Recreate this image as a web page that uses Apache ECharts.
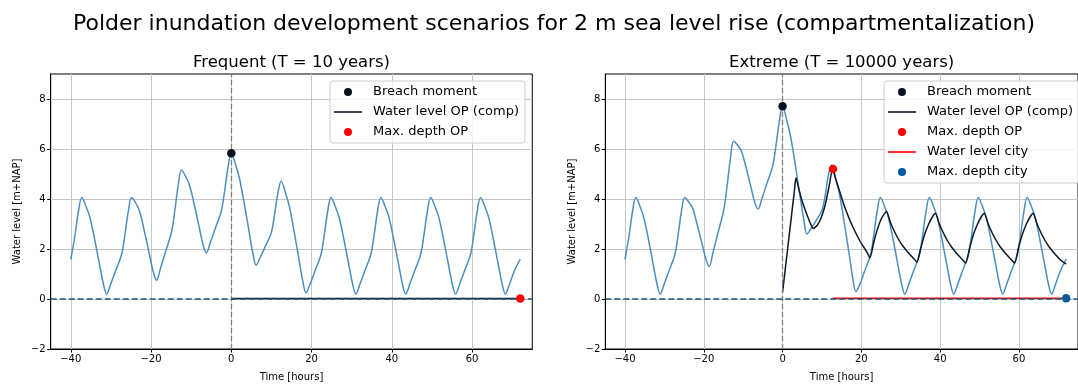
<!DOCTYPE html>
<html><head><meta charset="utf-8">
<script src="https://cdn.jsdelivr.net/npm/echarts@6/dist/echarts.min.js"></script>
<style>html,body{margin:0;padding:0;background:#fff}#c{width:1078px;height:387px}</style>
</head><body><div id="c"></div>
<script>
// ---------------- data ----------------
const suptitle = 'Polder inundation development scenarios for 2 m sea level rise (compartmentalization)';
const panelTitles = ['Frequent (T = 10 years)', 'Extreme (T = 10000 years)'];
const xTicks = [-40, -20, 0, 20, 40, 60];
const yTicks = [-2, 0, 2, 4, 6, 8];

const seaTime = [
  -40, -38.92, -38.09, -37.26, -36.02, -35.19, -33.96, -32.69, -31.86, -31.06, -30.06, -28.84, -27.34,
  -26.5, -25.67, -24.84, -23.6, -22.77, -21.54, -20.27, -19.44, -18.64, -17.64, -16.42, -14.92,
  -14.08, -13.25, -12.42, -11.18, -10.35, -9.12, -7.85, -7.02, -6.22, -5.22, -4.0, -2.5,
  -1.66, -0.83, 0, 1.24, 2.07, 3.3, 4.57, 5.4, 6.2, 7.2, 8.42, 9.92,
  10.76, 11.59, 12.42, 13.66, 14.49, 15.72, 16.99, 17.82, 18.62, 19.62, 20.84, 22.34,
  23.18, 24.01, 24.84, 26.08, 26.91, 28.14, 29.41, 30.24, 31.04, 32.04, 33.26, 34.76,
  35.6, 36.43, 37.26, 38.5, 39.33, 40.56, 41.83, 42.66, 43.46, 44.46, 45.68, 47.18,
  48.02, 48.85, 49.68, 50.92, 51.75, 52.98, 54.25, 55.08, 55.88, 56.88, 58.1, 59.6,
  60.44, 61.27, 62.1, 63.34, 64.17, 65.4, 66.67, 67.5, 68.3, 69.3, 70.52, 72
];
const seaFrequent = [
  1.58, 2.58, 3.50, 4.06, 3.63, 3.24, 2.31, 1.26, 0.59, 0.20, 0.59, 1.12, 1.78,
  2.58, 3.50, 4.06, 3.78, 3.46, 2.63, 1.68, 1.08, 0.75, 1.23, 1.87, 2.66,
  3.53, 4.53, 5.16, 4.84, 4.52, 3.70, 2.76, 2.17, 1.85, 2.26, 2.82, 3.51,
  4.32, 5.26, 5.83, 5.28, 4.80, 3.75, 2.56, 1.81, 1.35, 1.66, 2.09, 2.63,
  3.36, 4.21, 4.71, 4.16, 3.69, 2.64, 1.46, 0.71, 0.25, 0.59, 1.12, 1.78,
  2.58, 3.50, 4.06, 3.63, 3.24, 2.31, 1.26, 0.59, 0.20, 0.59, 1.12, 1.78,
  2.58, 3.50, 4.06, 3.63, 3.24, 2.31, 1.26, 0.59, 0.20, 0.59, 1.12, 1.78,
  2.58, 3.50, 4.06, 3.63, 3.24, 2.31, 1.26, 0.59, 0.20, 0.59, 1.12, 1.78,
  2.58, 3.50, 4.06, 3.63, 3.24, 2.31, 1.26, 0.59, 0.20, 0.59, 1.12, 1.60
];
const seaExtreme = [
  1.58, 2.58, 3.50, 4.06, 3.63, 3.24, 2.31, 1.26, 0.59, 0.20, 0.59, 1.12, 1.78,
  2.58, 3.50, 4.06, 3.83, 3.61, 2.89, 2.10, 1.59, 1.30, 1.88, 2.63, 3.57,
  4.53, 5.60, 6.31, 6.11, 5.87, 5.17, 4.36, 3.84, 3.60, 4.03, 4.61, 5.33,
  6.15, 7.10, 7.71, 7.03, 6.47, 5.30, 3.99, 3.16, 2.60, 2.81, 3.11, 3.52,
  4.08, 4.92, 5.36, 4.71, 4.16, 3.00, 1.71, 0.84, 0.30, 0.59, 1.12, 1.78,
  2.58, 3.50, 4.06, 3.63, 3.24, 2.31, 1.26, 0.59, 0.20, 0.59, 1.12, 1.78,
  2.58, 3.50, 4.06, 3.63, 3.24, 2.31, 1.26, 0.59, 0.20, 0.59, 1.12, 1.78,
  2.58, 3.50, 4.06, 3.63, 3.24, 2.31, 1.26, 0.59, 0.20, 0.59, 1.12, 1.78,
  2.58, 3.50, 4.06, 3.63, 3.24, 2.31, 1.26, 0.59, 0.20, 0.59, 1.12, 1.60
];

const opFrequentTime = [0, 72];
const opFrequentLevel = [0.02, 0.02];

const opExtremeTime = [
  0, 1.0, 2.0, 3.0, 3.4, 4.2, 5.0, 6.0, 7.0, 7.8, 8.8, 9.8, 10.8, 11.8, 12.7,
  13.5, 14.5, 15.5, 16.5, 17.5, 18.5, 19.5, 20.5, 21.5, 22.2, 23.2, 24.2, 25.2, 26.4,
  27.4, 28.4, 29.4, 30.4, 31.4, 32.4, 33.4, 34.1, 35.1, 36.1, 37.1, 38.1, 38.8,
  39.8, 40.8, 41.8, 42.8, 43.8, 44.8, 45.8, 46.5, 47.5, 48.5, 49.5, 50.5, 51.2,
  52.2, 53.2, 54.2, 55.2, 56.2, 57.2, 58.2, 58.9, 59.9, 60.9, 61.9, 62.9, 63.6,
  64.6, 65.6, 66.6, 67.6, 68.6, 69.6, 70.6, 72
];
const opExtremeLevel = [
  0.27, 1.62, 2.97, 4.32, 4.85, 4.35, 3.90, 3.45, 3.05, 2.82, 2.95, 3.25, 3.75, 4.50, 5.20,
  4.80, 4.30, 3.80, 3.38, 3.00, 2.67, 2.36, 2.10, 1.85, 1.65, 2.30, 2.85, 3.25, 3.50,
  3.05, 2.70, 2.40, 2.15, 1.95, 1.77, 1.60, 1.47, 2.05, 2.60, 3.00, 3.30, 3.43,
  3.00, 2.65, 2.35, 2.10, 1.90, 1.72, 1.55, 1.43, 2.05, 2.60, 3.00, 3.30, 3.43,
  3.00, 2.65, 2.35, 2.10, 1.90, 1.72, 1.55, 1.43, 2.05, 2.60, 3.00, 3.30, 3.43,
  3.00, 2.65, 2.35, 2.10, 1.90, 1.72, 1.55, 1.40
];
const cityExtremeTime = [12.7, 72];
const cityExtremeLevel = [0.03, 0.03];

const breachFrequent = [0, 5.83];
const maxDepthOPFrequent = [72, 0.02];
const breachExtreme = [0, 7.71];
const maxDepthOPExtreme = [12.8, 5.2];
const maxDepthCityExtreme = [72, 0.03];

const baseLevel = 0;
const breachTime = 0;

// ---------------- styles ----------------
const FONT = 'DejaVu Sans';
const C_SEA = '#4b8fc2';
const C_OP = '#0b1826';
const C_BREACH = '#06121f';
const C_RED = '#ff0000';
const C_CITYDOT = '#005a9c';
const C_BASE = '#21527f';
const C_VLINE = '#808080';
const LINE_ICON = 'path://M0,0H28V1.6H0Z';

const zip = (a, b) => a.map((v, i) => [v, b[i]]);
const fmt = v => String(v).replace('-', '\u2212');

function xAxisFor(g) {
  return {
    type: 'value', gridIndex: g, min: -45, max: 75,
    name: 'Time [hours]', nameLocation: 'middle', nameGap: 23,
    nameTextStyle: {fontFamily: FONT, fontSize: 10, color: '#000'},
    axisLine: {show: true, onZero: false, lineStyle: {color: '#000', width: 1}},
    axisTick: {show: true, length: 3.5, customValues: xTicks, lineStyle: {color: '#000', width: 1}},
    axisLabel: {customValues: xTicks, margin: 5, fontFamily: FONT, fontSize: 10, color: '#000', formatter: fmt},
    splitLine: {show: true, lineStyle: {color: '#c6c6c6', width: 1}}
  };
}
function topAxisFor(g, title) {
  return {
    type: 'value', gridIndex: g, min: -45, max: 75, position: 'top',
    name: title, nameLocation: 'middle', nameGap: 3,
    nameTextStyle: {fontFamily: FONT, fontSize: 16.5, color: '#000'},
    axisLine: {show: false}, axisTick: {show: false}, axisLabel: {show: false}, splitLine: {show: false}
  };
}
function yAxisFor(g) {
  return {
    type: 'value', gridIndex: g, min: -2, max: 9,
    name: 'Water level [m+NAP]', nameLocation: 'middle', nameGap: 28, nameRotate: 90,
    nameTextStyle: {fontFamily: FONT, fontSize: 10, color: '#000'},
    axisLine: {show: true, onZero: false, lineStyle: {color: '#000', width: 1}},
    axisTick: {show: true, length: 3.5, customValues: yTicks, lineStyle: {color: '#000', width: 1}},
    axisLabel: {customValues: yTicks, margin: 5, fontFamily: FONT, fontSize: 10, color: '#000', formatter: fmt},
    splitLine: {show: true, lineStyle: {color: '#c6c6c6', width: 1}}
  };
}
function refLines() {
  return {
    silent: true, symbol: ['none', 'none'], label: {show: false}, animation: false,
    data: [
      {xAxis: breachTime, lineStyle: {color: C_VLINE, type: [5, 3], width: 1.3}},
      {yAxis: baseLevel, lineStyle: {color: C_BASE, type: [6, 3], width: 1.5}}
    ]
  };
}
function lineSeries(name, g, data, color, extra) {
  return Object.assign({
    type: 'line', name, xAxisIndex: g * 2, yAxisIndex: g, data,
    symbol: 'none', showSymbol: false, lineStyle: {color, width: 1.5}, itemStyle: {color},
    animation: false, z: 3
  }, extra || {});
}
function dotSeries(name, g, pt, color) {
  return {
    type: 'scatter', name, xAxisIndex: g * 2, yAxisIndex: g, data: [pt],
    symbol: 'circle', symbolSize: 8.5, itemStyle: {color, opacity: 1}, animation: false, z: 5
  };
}
function legendItem(name) {
  const isLine = name.indexOf('Water level') === 0;
  return {name, icon: isLine ? LINE_ICON : 'circle'};
}
function legendFor(left, names) {
  return {
    data: names.map(legendItem), orient: 'vertical', left, top: 81,
    itemWidth: 28, itemHeight: 8, itemGap: 6, selectedMode: false, symbolKeepAspect: true,
    padding: [4, 6, 4, 4],
    backgroundColor: 'rgba(255,255,255,0.8)', borderColor: '#cccccc', borderWidth: 1, borderRadius: 3,
    textStyle: {fontFamily: FONT, fontSize: 13, color: '#000', lineHeight: 14, padding: [0, 0, 0, 6]}
  };
}

const chart = echarts.init(document.getElementById('c'), null, {renderer: 'canvas'});
chart.setOption({
  backgroundColor: '#fff',
  animation: false,
  title: {
    text: suptitle, left: 68, top: 8,
    textStyle: {fontFamily: FONT, fontSize: 22, fontWeight: 'normal', color: '#000'}
  },
  grid: [
    {left: 50.7, right: 545.7, top: 74, bottom: 35.3, show: true, borderColor: '#000', borderWidth: 1, backgroundColor: 'transparent'},
    {left: 605.3, right: -9, top: 74, bottom: 35.3, show: true, borderColor: '#000', borderWidth: 1, backgroundColor: 'transparent'}
  ],
  xAxis: [xAxisFor(0), topAxisFor(0, panelTitles[0]), xAxisFor(1), topAxisFor(1, panelTitles[1])],
  yAxis: [yAxisFor(0), yAxisFor(1)],
  legend: [
    legendFor(330, ['Breach moment', 'Water level OP (comp)', 'Max. depth OP']),
    legendFor(884, ['Breach moment', 'Water level OP (comp)', 'Max. depth OP', 'Water level city', 'Max. depth city'])
  ],
  series: [
    lineSeries('Sea level', 0, zip(seaTime, seaFrequent), C_SEA, {smooth: 0.35, z: 2, markLine: refLines()}),
    lineSeries('Water level OP (comp)', 0, zip(opFrequentTime, opFrequentLevel), C_OP),
    dotSeries('Breach moment', 0, breachFrequent, C_BREACH),
    dotSeries('Max. depth OP', 0, maxDepthOPFrequent, C_RED),

    lineSeries('Sea level', 1, zip(seaTime, seaExtreme), C_SEA, {smooth: 0.35, z: 2, markLine: refLines()}),
    lineSeries('Water level OP (comp)', 1, zip(opExtremeTime, opExtremeLevel), C_OP, {smooth: 0.2}),
    lineSeries('Water level city', 1, zip(cityExtremeTime, cityExtremeLevel), C_RED),
    dotSeries('Breach moment', 1, breachExtreme, C_BREACH),
    dotSeries('Max. depth OP', 1, maxDepthOPExtreme, C_RED),
    dotSeries('Max. depth city', 1, maxDepthCityExtreme, C_CITYDOT)
  ]
});
</script>
</body></html>
